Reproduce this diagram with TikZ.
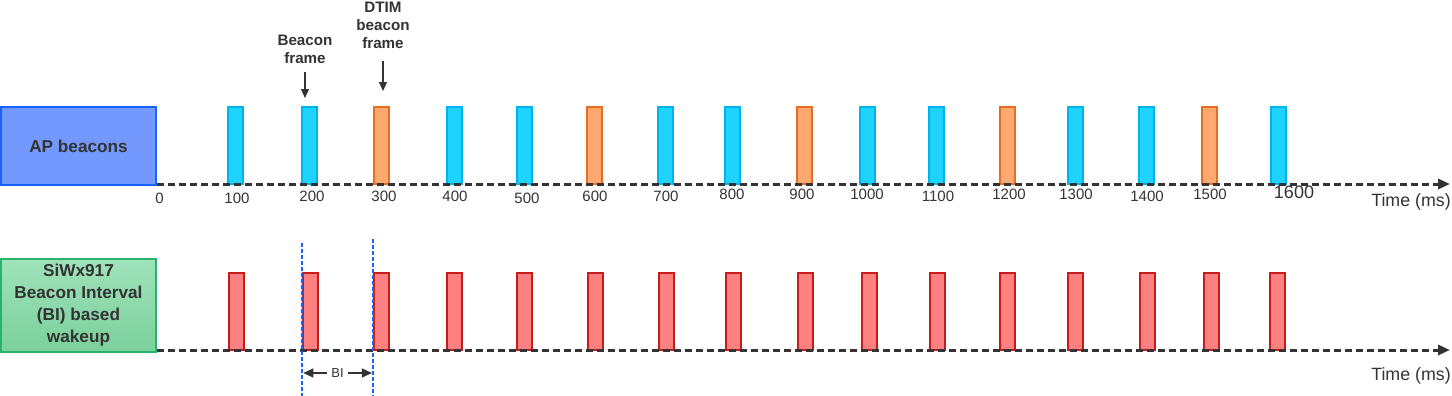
\documentclass[tikz,border=0pt]{standalone}
\usepackage{fontspec}
\setmainfont{Liberation Sans}
\usepackage{xcolor}
\usetikzlibrary{positioning,arrows.meta}

\definecolor{txtgray}{RGB}{51,51,51}
\definecolor{apfill}{RGB}{115,153,255}
\definecolor{apdraw}{RGB}{25,98,255}
\definecolor{bifilltop}{RGB}{160,226,186}
\definecolor{bifillbot}{RGB}{122,208,156}
\definecolor{bidraw}{RGB}{40,178,110}
\definecolor{cyfill}{RGB}{31,211,255}
\definecolor{cydraw}{RGB}{0,178,238}
\definecolor{orfill}{RGB}{255,168,112}
\definecolor{ordraw}{RGB}{230,110,35}
\definecolor{rdfill}{RGB}{255,128,128}
\definecolor{rddraw}{RGB}{200,28,28}
\definecolor{guideblue}{RGB}{20,100,255}

\begin{document}
\begin{tikzpicture}[x=0.5pt,y=-0.5pt,>={Triangle[length=6pt,width=5pt]},text=txtgray,
	lane/.style={draw,line width=1pt,minimum width=77.5pt,inner sep=0pt,align=center,
		font=\bfseries\fontsize{8.6}{11}\selectfont},
	bar/.style={draw,line width=1pt,minimum width=7.5pt,minimum height=38.5pt,inner sep=0pt,anchor=south},
	beacon/.style={bar,fill=cyfill,draw=cydraw},
	dtim/.style={bar,fill=orfill,draw=ordraw},
	wake/.style={bar,fill=rdfill,draw=rddraw},
	timeline/.style={->,line width=1.5pt,dash pattern=on 3.5pt off 2pt,draw=txtgray},
	tick/.style={font=\fontsize{7.5}{8}\selectfont},
	axislabel/.style={font=\fontsize{8.9}{10}\selectfont},
	note/.style={align=center,inner sep=0pt,font=\bfseries\fontsize{7.6}{9}\selectfont},
	pointer/.style={-{Triangle[length=4.5pt,width=4pt]},line width=0.6pt,draw=txtgray},
	guide/.style={dash pattern=on 2pt off 1pt,line width=0.9pt,draw=guideblue}]
	\useasboundingbox (0,0) rectangle (1452,396);

	% AP beacons lane
	\node[lane,fill=apfill,draw=apdraw,minimum height=39pt] (ap) at (78.5,146) {AP beacons};
	\foreach \x/\k [count=\i] in {235/beacon,309/beacon,381/dtim,454/beacon,524/beacon,594/dtim,
		665/beacon,732/beacon,804/dtim,867/beacon,936/beacon,1007/dtim,1075/beacon,1146/beacon,
		1209/dtim,1278/beacon}
		\node[\k] (ap\i) at (\x,185) {};
	\coordinate (apend) at (1450,184);
	\draw[timeline] (ap.east |- 0,184) -- (apend);
	\foreach \x/\y/\t [count=\i] in {159.5/198/0,237/198/100,312/196/200,384/196/300,455/196/400,
		527/198/500,595/196/600,666/196/700,732/194/800,802/194/900,867/194/1000,938/196/1100,
		1009/194/1200,1076/194/1300,1147/196/1400,1210/194/1500}
		\node[tick] (t\i) at (\x,\y) {\t};
	\node[tick,font=\fontsize{9}{10}\selectfont] (t17) at (1294,192) {1600};
	\node[axislabel] (time1) at (1411,202) {Time (ms)};

	% annotations
	\node[note] (bcn) at (305,49) {Beacon\\frame};
	\node[note] (dtimnote) at (383,25) {DTIM\\beacon\\frame};
	\draw[pointer,shorten <=4pt,shorten >=4pt] (bcn.south) -- (bcn.south |- ap2.north);
	\draw[pointer,shorten <=6pt,shorten >=7.5pt] (dtimnote.south) -- (dtimnote.south |- ap3.north);

	% SiWx917 lane
	\node[lane,top color=bifilltop,bottom color=bifillbot,draw=bidraw,minimum height=46.5pt] (bi) at (78.5,305.5)
		{SiWx917\\Beacon Interval\\(BI) based\\wakeup};
	\foreach \x [count=\i] in {236,310,381,454,524,595,666,733,805,869,937,1007,1075,1147,1211,1277}
		\node[wake] (wk\i) at (\x,351) {};
	\coordinate (biend) at (1450,350);
	\draw[timeline] (bi.east |- 0,350) -- (biend);
	\node[axislabel] (time2) at (1411,376) {Time (ms)};

	% beacon interval
	\draw[guide] ([xshift=0.25pt]wk2.south west |- 0,243) -- ([xshift=0.25pt]wk2.south west |- 0,396);
	\draw[guide] ([xshift=0.25pt]wk3.south west |- 0,239) -- ([xshift=0.25pt]wk3.south west |- 0,396);
	\draw[pointer,{Triangle[length=5pt,width=4.5pt]}-{Triangle[length=5pt,width=4.5pt]}]
		([xshift=0.9pt]wk2.south west |- 0,373) -- node[fill=white,inner sep=2pt,font=\fontsize{6.5}{7}\selectfont] (binote) {BI}
		([xshift=-0.3pt]wk3.south west |- 0,373);
\end{tikzpicture}
\end{document}
